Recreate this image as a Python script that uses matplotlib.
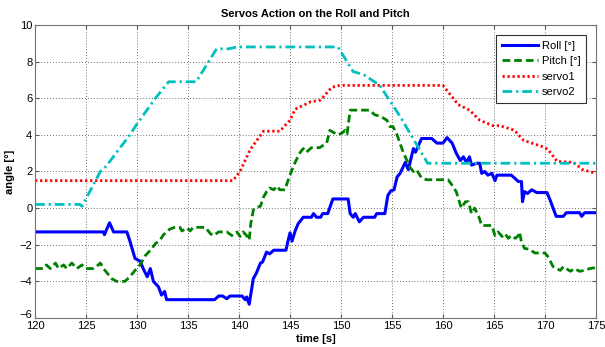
import matplotlib
matplotlib.use('Agg')
import matplotlib.pyplot as plt
import matplotlib.transforms as mtransforms

plt.rcParams['font.family'] = ['Liberation Sans', 'DejaVu Sans']

# Roll [deg]
roll_t = [120, 126.7, 126.8, 127.3, 127.7, 129.0, 129.3, 129.8, 130.3, 130.6,
          131.0, 131.3, 131.6, 132.1, 132.4, 132.7, 132.9, 137.6, 138.0, 138.4,
          138.8, 139.1, 140.3, 140.6, 140.75, 141.0, 141.4, 141.7, 142.1, 142.3,
          142.7, 143.0, 143.4, 144.6, 144.8, 145.0, 145.2, 145.5, 145.8, 146.3,
          147.1, 147.3, 147.6, 148.0, 148.2, 148.7, 149.2, 150.7, 150.9, 151.2,
          151.4, 151.8, 152.2, 153.3, 153.5, 154.3, 154.6, 154.9, 155.2, 155.5,
          155.8, 156.3, 156.6, 157.1, 157.3, 157.9, 158.9, 159.4, 160.0, 160.4,
          160.9, 161.3, 161.7, 162.0, 162.3, 162.6, 162.8, 163.3, 163.6, 163.8,
          164.1, 164.4, 164.8, 165.1, 165.3, 166.7, 167.1, 167.4, 167.7, 167.8,
          168.0, 168.3, 168.7, 169.2, 170.2, 170.5, 171.1, 171.8, 172.1, 173.4,
          173.6, 173.9, 175]
roll_v = [-1.3, -1.3, -1.45, -0.8, -1.3, -1.3, -1.8, -2.75, -2.9, -3.3,
          -3.75, -3.3, -4.0, -4.3, -4.75, -4.55, -5.0, -5.0, -4.8, -4.8,
          -4.95, -4.8, -4.8, -5.0, -4.85, -5.25, -3.85, -3.55, -3.0, -2.95,
          -2.4, -2.5, -2.3, -2.3, -1.8, -1.35, -1.8, -1.25, -0.85, -0.5,
          -0.5, -0.3, -0.5, -0.5, -0.3, -0.3, 0.5, 0.5, -0.3, -0.5,
          -0.3, -0.75, -0.5, -0.5, -0.3, -0.3, 0.7, 0.95, 1.0, 1.7,
          1.9, 2.5, 2.1, 3.25, 3.05, 3.8, 3.8, 3.55, 3.55, 3.85,
          3.55, 3.0, 2.6, 2.8, 2.5, 2.8, 2.35, 2.45, 2.45, 1.9,
          2.0, 1.8, 1.9, 1.5, 1.8, 1.8, 1.6, 1.45, 1.45, 0.35,
          0.9, 0.8, 1.0, 0.85, 0.85, 0.45, -0.45, -0.45, -0.25, -0.25,
          -0.45, -0.25, -0.25]

# Pitch [deg]
pitch_t = [120, 120.8, 121.1, 121.5, 122.0, 122.3, 122.8, 123.1, 123.6, 124.1,
           124.6, 125.0, 125.7, 126.0, 126.4, 126.7, 127.0, 127.5, 128.0, 128.8,
           129.3, 129.8, 130.3, 130.8, 131.3, 131.8, 132.3, 132.6, 133.2, 133.7,
           134.2, 134.4, 134.9, 135.2, 135.5, 136.7, 137.2, 137.5, 138.0, 138.8,
           139.3, 139.8, 140.1, 140.4, 140.75, 141.0, 141.15, 141.4, 141.7, 142.1,
           142.4, 142.7, 143.0, 143.4, 143.7, 144.0, 144.5, 144.8, 145.2, 145.5,
           146.0, 146.3, 146.6, 147.1, 147.9, 148.6, 148.9, 149.2, 149.7, 150.1,
           150.4, 150.6, 150.9, 152.8, 153.3, 153.9, 154.5, 154.8, 155.1, 155.5,
           156.0, 156.3, 156.8, 157.1, 157.4, 157.9, 158.4, 160.5, 160.9, 161.3,
           161.8, 162.2, 162.5, 162.8, 163.1, 163.5, 163.8, 164.8, 165.1, 165.4,
           165.8, 166.1, 166.4, 166.7, 167.1, 167.4, 167.5, 167.7, 168.0, 168.5,
           169.0, 170.0, 170.3, 170.8, 171.5, 171.8, 172.5, 172.9, 173.4, 173.9,
           174.4, 175]
pitch_v = [-3.3, -3.3, -3.1, -3.3, -3.0, -3.3, -3.1, -3.3, -3.0, -3.3,
           -3.1, -3.3, -3.3, -3.2, -3.0, -3.3, -3.5, -3.85, -4.0, -4.0,
           -3.75, -3.4, -3.1, -2.6, -2.3, -1.95, -1.7, -1.45, -1.15, -1.05,
           -1.05, -1.25, -1.08, -1.25, -1.05, -1.05, -1.4, -1.5, -1.3, -1.3,
           -1.5, -1.3, -1.55, -1.3, -1.5, -1.75, -0.85, -0.1, 0.05, 0.1,
           0.6, 0.9, 1.1, 1.0, 1.2, 1.0, 1.0, 1.5, 2.1, 2.5,
           3.05, 3.25, 3.05, 3.3, 3.3, 3.55, 4.25, 4.15, 4.0, 4.1,
           4.25, 4.05, 5.35, 5.35, 5.1, 5.0, 4.8, 4.45, 4.45, 4.0,
           3.2, 2.8, 2.2, 2.0, 2.1, 1.65, 1.55, 1.55, 1.25, 0.9,
           0.0, 0.35, 0.35, -0.3, 0.0, -0.45, -0.95, -0.95, -1.5, -1.3,
           -1.55, -1.4, -1.65, -1.5, -1.65, -1.5, -1.3, -1.85, -2.2, -2.25,
           -2.45, -2.45, -2.65, -3.2, -3.4, -3.2, -3.45, -3.3, -3.45, -3.4,
           -3.3, -3.25]

# servo1
servo1_t = [120, 139.4, 140.1, 141.1, 142.4, 144.0, 145.0, 145.5, 147.0, 148.0,
            149.1, 149.9, 160.0, 161.0, 161.5, 162.6, 163.6, 164.9, 165.6, 167.0,
            167.9, 169.8, 170.3, 171.2, 172.8, 173.7, 175]
servo1_v = [1.5, 1.5, 2.0, 3.2, 4.2, 4.2, 4.8, 5.4, 5.8, 5.9,
            6.6, 6.7, 6.7, 6.0, 5.65, 5.35, 4.8, 4.5, 4.5, 4.25,
            3.7, 3.35, 3.2, 2.55, 2.5, 2.1, 1.9]

# servo2
servo2_t = [120, 124.4, 124.6, 126.4, 127.0, 128.2, 129.3, 130.0, 131.8, 133.1,
            135.8, 137.8, 139.0, 139.8, 149.7, 151.2, 152.2, 153.8, 155.8, 158.5,
            175]
servo2_v = [0.2, 0.2, 0.1, 2.0, 2.3, 3.2, 4.0, 4.6, 6.0, 6.9,
            6.9, 8.7, 8.7, 8.8, 8.8, 7.45, 7.3, 6.7, 5.0, 2.45,
            2.45]

fig = plt.figure(figsize=(6.05, 3.47), dpi=100)
ax = fig.add_axes([0.058, 0.0836, 0.927, 0.8444])

ax.plot(roll_t, roll_v, color='#0000ff', lw=2.2, label='Roll [°]')
ax.plot(pitch_t, pitch_v, color='#008000', lw=2.0, ls=(0, (2.8, 1.4)), label='Pitch [°]')
ax.plot(servo1_t, servo1_v, color='#ff0000', lw=2.0, ls=(0, (0.8, 1.0)), label='servo1')
ax.plot(servo2_t, servo2_v, color='#00bfbf', lw=2.0, ls=(0, (3.5, 1.4, 0.8, 1.4)), label='servo2')

ax.set_xlim(120, 175)
ax.set_ylim(-6, 10)
ax.set_xticks(range(120, 176, 5))
ax.set_yticks(range(-6, 11, 2))
ax.grid(True, ls=(0, (1, 2.5)), color='0.25', lw=0.6)
ax.tick_params(direction='in', top=True, right=True, length=3, labelsize=8, pad=2, color='0.35')
for s in ax.spines.values():
    s.set_color('0.45')

# lift the bottom y label a little so it sits just above "120"
lift = mtransforms.ScaledTranslation(0, 3 / 72, fig.dpi_scale_trans)
ylab0 = ax.get_yticklabels()[0]
ylab0.set_transform(ylab0.get_transform() + lift)

ax.set_title('Servos Action on the Roll and Pitch', fontsize=8, fontweight='bold', pad=6)
ax.set_xlabel('time [s]', fontsize=8, fontweight='bold', labelpad=2)
ax.set_ylabel('angle [°]', fontsize=8, fontweight='bold', labelpad=3)

leg = ax.legend(loc='upper right', bbox_to_anchor=(0.982, 0.966), fontsize=8,
                fancybox=False, framealpha=1, edgecolor='0.2', handlelength=3.3,
                handletextpad=0.3, labelspacing=0.5, borderpad=0.5, borderaxespad=0)
leg.get_frame().set_linewidth(0.8)

fig.savefig('out.png', dpi=100)
